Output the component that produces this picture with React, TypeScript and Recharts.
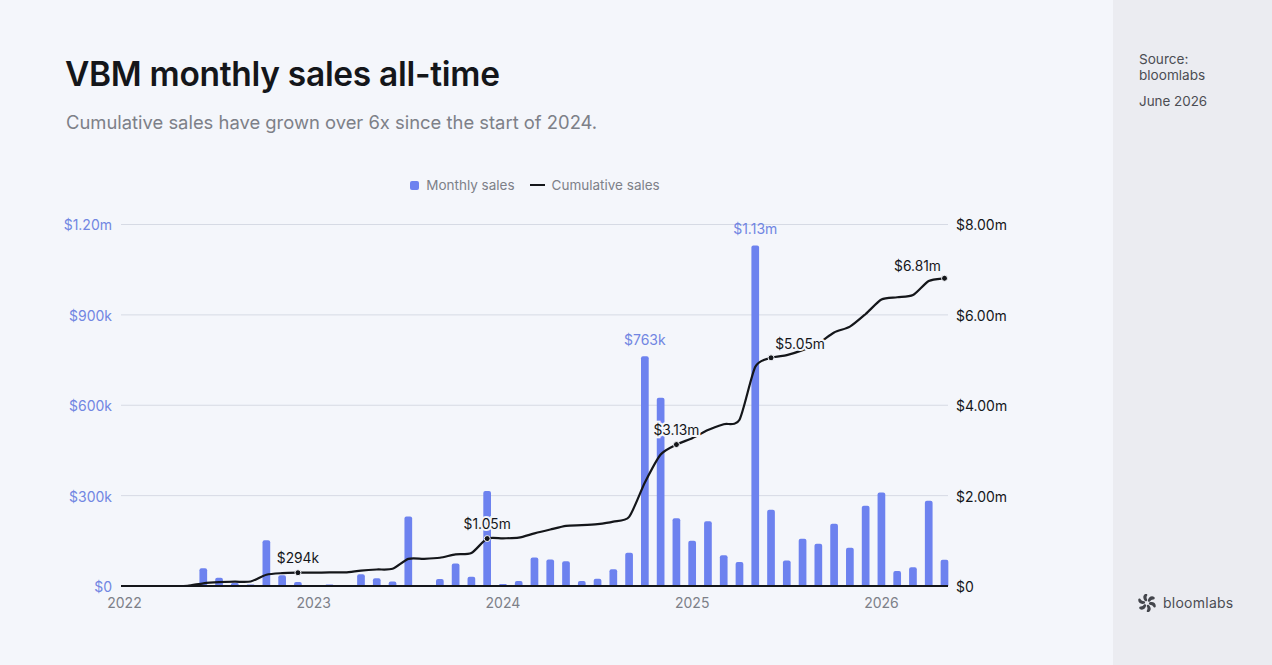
import React from 'react';
import {
  Bar,
  CartesianGrid,
  ComposedChart,
  LabelList,
  Legend,
  Line,
  XAxis,
  YAxis,
} from 'recharts';

const BG = '#f4f6fb';
const BLUE = '#6d82ef';
const BLUE_TEXT = '#7186e2';
const INK = '#14161a';
const GREY = '#7d8088';
const FONT = 'Inter, sans-serif';

// months since Jan 2022
const months = [
  0, 1, 2, 3, 4, 5, 6, 7, 8, 9, 10, 11, 12, 13, 14, 15, 16, 17, 18, 19, 20, 21, 22, 23, 24, 25,
  26, 27, 28, 29, 30, 31, 32, 33, 34, 35, 36, 37, 38, 39, 40, 41, 42, 43, 44, 45, 46, 47, 48,
  49, 50, 51, 52,
];

const monthlySales = [
  0, 0, 0, 0, 500, 59000, 27000, 10000, 5000, 152000, 36000, 13000, 1000, 5000, 2000, 39000,
  26000, 15000, 231000, 3000, 23000, 75000, 31000, 315000, 7000, 17000, 95000, 88000, 82000,
  17000, 24000, 56000, 110000, 763000, 625000, 225000, 150000, 215000, 102000, 80000, 1130000,
  253000, 85000, 157000, 140000, 207000, 127000, 266000, 310000, 50000, 62000, 283000, 87000,
];

const cumulativeSales = [
  0, 0, 0, 0, 5000, 60000, 85000, 95000, 100000, 250000, 285000, 294000, 295000, 300000, 302000,
  340000, 365000, 380000, 600000, 602000, 625000, 700000, 730000, 1050000, 1055000, 1070000,
  1165000, 1250000, 1330000, 1345000, 1370000, 1425000, 1530000, 2290000, 2910000, 3130000,
  3270000, 3450000, 3580000, 3680000, 4850000, 5050000, 5110000, 5220000, 5370000, 5610000,
  5740000, 6020000, 6340000, 6390000, 6440000, 6750000, 6810000,
];

const yearTicks = [0, 12, 24, 36, 48];
const yearLabels = ['2022', '2023', '2024', '2025', '2026'];
const leftTicks = [0, 300000, 600000, 900000, 1200000];
const leftTickLabels = ['$0', '$300k', '$600k', '$900k', '$1.20m'];
const rightTicks = [0, 2000000, 4000000, 6000000, 8000000];
const rightTickLabels = ['$0', '$2.00m', '$4.00m', '$6.00m', '$8.00m'];

const barCallouts: Record<number, string> = { 33: '$763k', 40: '$1.13m' };
const lineCallouts: Record<number, string> = {
  11: '$294k',
  23: '$1.05m',
  35: '$3.13m',
  41: '$5.05m',
  52: '$6.81m',
};
const lineCalloutNudge: Record<number, [number, number]> = {
  11: [0, -15],
  23: [0, -15],
  35: [0, -15],
  41: [29, -14],
  52: [-27, -12],
};

const chartData = months.map((month, i) => ({
  month,
  monthly: monthlySales[i],
  cumulative: cumulativeSales[i],
}));

// loose cardinal spline, the original line overshoots a little before big jumps
function softSpline(context: any) {
  const TENSION = 0.12;
  let pts: [number, number][] = [];
  return {
    areaStart() {},
    areaEnd() {},
    lineStart() {
      pts = [];
    },
    point(x: number, y: number) {
      pts.push([+x, +y]);
    },
    lineEnd() {
      pts.forEach((p, i) => {
        if (i === 0) {
          context.moveTo(p[0], p[1]);
          return;
        }
        const p0 = pts[i - 2] || pts[i - 1];
        const p1 = pts[i - 1];
        const p3 = pts[i + 1] || p;
        context.bezierCurveTo(
          p1[0] + (p[0] - p0[0]) * TENSION,
          p1[1] + (p[1] - p0[1]) * TENSION,
          p[0] - (p3[0] - p1[0]) * TENSION,
          p[1] - (p3[1] - p1[1]) * TENSION,
          p[0],
          p[1],
        );
      });
    },
  };
}

function LegendRow() {
  return (
    <div
      style={{
        display: 'flex',
        justifyContent: 'center',
        alignItems: 'center',
        fontFamily: FONT,
        fontSize: 13.5,
        color: GREY,
        height: 20,
      }}
    >
      <span style={{ width: 9, height: 9, borderRadius: 2, background: BLUE, marginRight: 7 }} />
      <span style={{ marginRight: 15 }}>Monthly sales</span>
      <span style={{ width: 15, height: 2, background: INK, marginRight: 7 }} />
      <span>Cumulative sales</span>
    </div>
  );
}

function BarCallout(props: any) {
  // LabelList skips the empty leading months, so props.index is not the month here
  const text = barCallouts[monthlySales.indexOf(props.value)];
  if (!text) return null;
  return (
    <text
      x={props.x + props.width / 2}
      y={props.y - 17}
      textAnchor="middle"
      dominantBaseline="central"
      fontFamily={FONT}
      fontSize={14}
      fill={BLUE_TEXT}
    >
      {text}
    </text>
  );
}

function LineCallout(props: any) {
  const text = lineCallouts[props.index];
  if (!text) return null;
  const [dx, dy] = lineCalloutNudge[props.index];
  return (
    <text
      x={props.x + dx}
      y={props.y + dy}
      textAnchor="middle"
      dominantBaseline="central"
      fontFamily={FONT}
      fontSize={13.8}
      fill={INK}
      stroke={BG}
      strokeWidth={4}
      paintOrder="stroke"
    >
      {text}
    </text>
  );
}

function LineDot(props: any) {
  if (!lineCallouts[props.index]) return <g key={props.index} />;
  return (
    <circle key={props.index} cx={props.cx} cy={props.cy} r={3} fill={INK} stroke={BG} strokeWidth={1} />
  );
}

function Logo() {
  const petals = [0, 60, 120, 180, 240, 300];
  return (
    <svg width={18} height={18} viewBox="-9 -9 18 18" style={{ position: 'absolute', left: 1138, top: 594 }}>
      {petals.map((a) => (
        <path
          key={a}
          d="M0.8 -2.2 C1.2 -5.6 4.4 -7.8 7.2 -6 C8.4 -5 7.6 -3.4 6.2 -3.6 C4.8 -3.6 3.8 -2.8 3 -1.6 C2.2 -0.8 1 -1.2 0.8 -2.2 Z"
          fill="#44464c"
          transform={`rotate(${a})`}
        />
      ))}
    </svg>
  );
}

export default function App() {
  return (
    <div
      style={{
        position: 'absolute',
        left: 0,
        top: 0,
        width: 1272,
        height: 665,
        background: BG,
        overflow: 'hidden',
        fontFamily: FONT,
      }}
    >
      <div
        style={{
          position: 'absolute',
          left: 65,
          top: 54,
          fontSize: 33.5,
          fontWeight: 600,
          letterSpacing: -0.3,
          color: INK,
          whiteSpace: 'nowrap',
        }}
      >
        VBM monthly sales all-time
      </div>
      <div style={{ position: 'absolute', left: 66, top: 111, fontSize: 18.4, color: GREY, whiteSpace: 'nowrap' }}>
        Cumulative sales have grown over 6x since the start of 2024.
      </div>

      <div style={{ position: 'absolute', left: 1113, top: 0, width: 159, height: 665, background: '#ebecf1' }} />
      <div style={{ position: 'absolute', left: 1139, top: 51, fontSize: 13.6, lineHeight: '16px', color: '#4b4d53' }}>
        Source:
        <br />
        bloomlabs
      </div>
      <div style={{ position: 'absolute', left: 1139, top: 93, fontSize: 13.4, lineHeight: '16px', color: '#4b4d53' }}>
        June 2026
      </div>
      <Logo />
      <div style={{ position: 'absolute', left: 1163, top: 595, fontSize: 14, lineHeight: '16px', letterSpacing: 0.25, color: '#4b4d53' }}>
        bloomlabs
      </div>

      <div style={{ position: 'absolute', left: 0, top: 0 }}>
        <ComposedChart
          width={1113}
          height={665}
          data={chartData}
          margin={{ top: 204.5, right: 0, bottom: 0, left: 0 }}
        >
          <CartesianGrid vertical={false} stroke="#d6dae4" strokeWidth={1} yAxisId="left" />
          <XAxis
            dataKey="month"
            type="number"
            domain={[-0.22, 52.22]}
            ticks={yearTicks}
            interval={0}
            tickFormatter={(_v: number, i: number) => yearLabels[i]}
            height={79}
            tickLine={false}
            tickSize={0}
            tickMargin={12}
            axisLine={{ stroke: INK, strokeWidth: 2 }}
            tick={{ fill: GREY, fontSize: 14, fontFamily: FONT }}
          />
          <YAxis
            yAxisId="left"
            orientation="left"
            width={121}
            domain={[0, 1200000]}
            ticks={leftTicks}
            interval={0}
            tickFormatter={(_v: number, i: number) => leftTickLabels[i]}
            axisLine={false}
            tickLine={false}
            tickSize={0}
            tickMargin={9}
            tick={{ fill: BLUE_TEXT, fontSize: 14, fontFamily: FONT, dy: 1 }}
          />
          <YAxis
            yAxisId="right"
            orientation="right"
            width={165}
            domain={[0, 8000000]}
            ticks={rightTicks}
            interval={0}
            tickFormatter={(_v: number, i: number) => rightTickLabels[i]}
            axisLine={false}
            tickLine={false}
            tickSize={0}
            tickMargin={8}
            tick={{ fill: INK, fontSize: 14, fontFamily: FONT, dy: 1 }}
          />
          <Legend
            verticalAlign="top"
            content={<LegendRow />}
            wrapperStyle={{ top: 175, left: 0, width: 1070, height: 20 }}
          />
          <Bar
            yAxisId="left"
            dataKey="monthly"
            name="Monthly sales"
            fill={BLUE}
            barSize={7.7}
            radius={[2, 2, 0, 0]}
            isAnimationActive={false}
          >
            <LabelList dataKey="monthly" content={BarCallout} />
          </Bar>
          <Line
            yAxisId="right"
            dataKey="cumulative"
            name="Cumulative sales"
            type={softSpline as any}
            stroke={INK}
            strokeWidth={2.2}
            dot={LineDot}
            activeDot={false}
            isAnimationActive={false}
          >
            <LabelList dataKey="cumulative" content={LineCallout} />
          </Line>
        </ComposedChart>
      </div>
    </div>
  );
}
